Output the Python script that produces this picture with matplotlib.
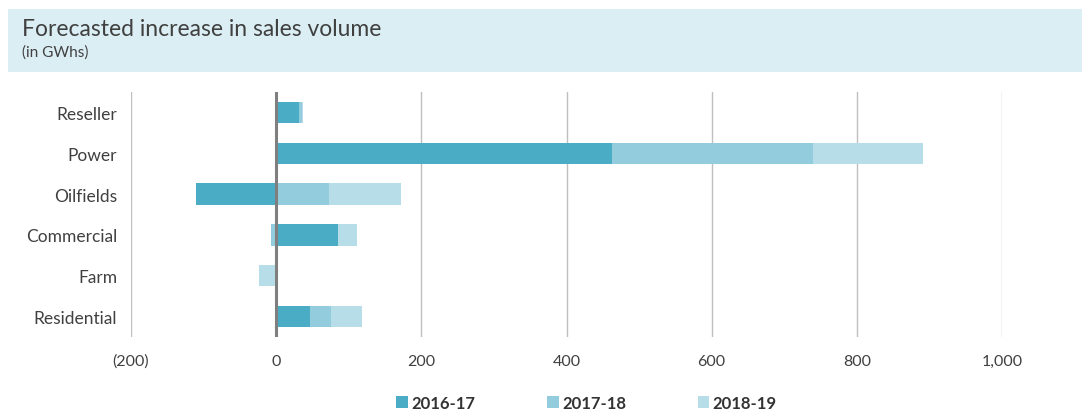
import matplotlib.pyplot as plt
import numpy as np
from matplotlib.patches import Rectangle

# Forecast increase in sales volume by customer class (GWh)
categories = ['Reseller', 'Power', 'Oilfields', 'Commercial', 'Farm', 'Residential']
years = ['2016-17', '2017-18', '2018-19']
fy17 = [31, 462, -111, 85, 0, 47]
fy18 = [4, 277, 73, -7, 0, 29]
fy19 = [2, 152, 99, 27, -23, 42]
xticks = [-200, 0, 200, 400, 600, 800, 1000]
xtick_labels = ['(200)', '0', '200', '400', '600', '800', '1,000']

colors = ['#4bacc6', '#93cddd', '#b7dee8']
plt.rcParams['font.family'] = ['Lato', 'DejaVu Sans']

fig = plt.figure(figsize=(10.82, 4.10), dpi=100)

# header band
fig.patches.append(Rectangle((8 / 1082, 1 - 73 / 410), 1 - 8 / 1082, 63 / 410,
                             transform=fig.transFigure, facecolor='#dbeef4',
                             edgecolor='none', zorder=0))
fig.text(22 / 1082, 1 - 30 / 410, 'Forecasted increase in sales volume',
         fontsize=16.5, color='#404040', va='center', ha='left')
fig.text(22 / 1082, 1 - 53 / 410, '(in GWhs)', fontsize=11,
         color='#404040', va='center', ha='left')

ax = fig.add_axes([131 / 1082, 1 - 338 / 410, 871 / 1082, 245 / 410])

y = np.arange(len(categories))
pos_left = np.zeros(len(categories))
neg_left = np.zeros(len(categories))
for vals, color, label in zip([fy17, fy18, fy19], colors, years):
    vals = np.array(vals, dtype=float)
    left = np.where(vals >= 0, pos_left, neg_left)
    ax.barh(y, vals, left=left, height=0.52, color=color, label=label, zorder=2)
    pos_left += np.where(vals > 0, vals, 0)
    neg_left += np.where(vals < 0, vals, 0)

ax.set_xlim(-200, 1000)
ax.set_ylim(len(categories) - 0.5, -0.5)
ax.set_yticks(y)
ax.set_yticklabels(categories, fontsize=12.5, color='#404040')
ax.set_xticks(xticks)
ax.set_xticklabels(xtick_labels, fontsize=11.5, color='#404040')
ax.tick_params(length=0, pad=10)
ax.tick_params(axis='x', pad=12)
ax.grid(axis='x', color='#bfbfbf', linewidth=1, zorder=0)
ax.axvline(0, color='#7f7f7f', linewidth=2.2, zorder=3)
for s in ax.spines.values():
    s.set_visible(False)

fig.legend(loc='center', bbox_to_anchor=(0.542, 1 - 404 / 410), ncol=3,
           frameon=False, handlelength=0.7, handleheight=0.7,
           handletextpad=0.2, columnspacing=4.3,
           prop={'weight': 'bold', 'size': 12}, labelcolor='#333333')

plt.savefig('out.png', dpi=100)
